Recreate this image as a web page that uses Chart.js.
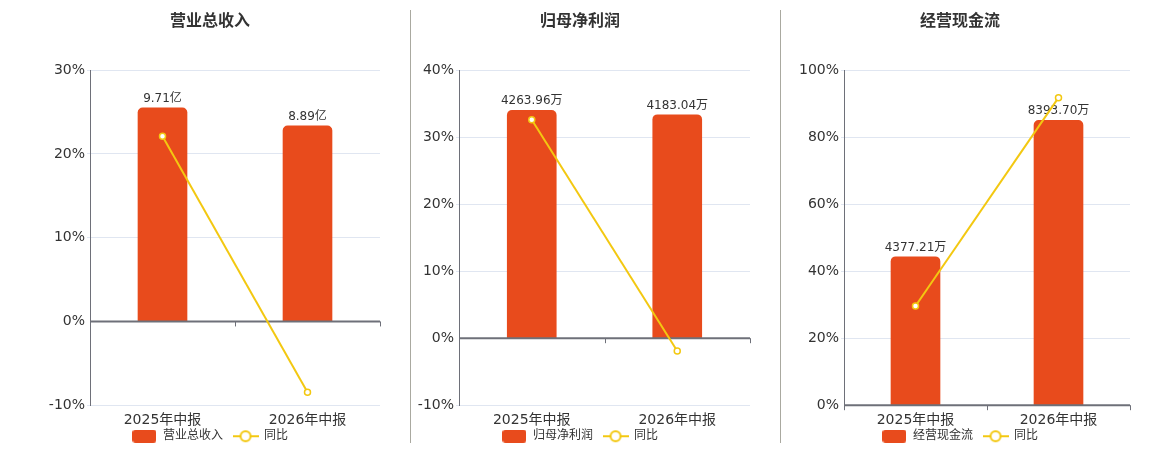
<!DOCTYPE html>
<html>
<head>
<meta charset="utf-8">
<script src="https://cdn.jsdelivr.net/npm/chart.js@4.4.1/dist/chart.umd.min.js"></script>
<style>
  body { margin: 0; background: #fff; overflow: hidden; width: 1160px; height: 450px; position: relative; }
  canvas { position: absolute; top: 0; }
  .sep { position: absolute; top: 10px; width: 1px; height: 433px; background: #aaa9a0; }
</style>
</head>
<body>
<canvas id="c1" width="380" height="468" style="left:20px"></canvas>
<canvas id="c2" width="370" height="468" style="left:395px"></canvas>
<canvas id="c3" width="370" height="468" style="left:775px"></canvas>
<div class="sep" style="left:410px"></div>
<div class="sep" style="left:780px"></div>
<script>
const categories = ['2025年中报', '2026年中报'];

const revenueValues = [9.71, 8.89];      // 亿
const revenueYoy = [22.1, -8.45];        // %
const revenueTicks = [-10, 0, 10, 20, 30];

const profitValues = [4263.96, 4183.04]; // 万
const profitYoy = [32.6, -1.9];
const profitTicks = [-10, 0, 10, 20, 30, 40];

const cashValues = [4377.21, 8393.70];   // 万
const cashYoy = [29.6, 91.8];
const cashTicks = [0, 20, 40, 60, 80, 100];

const barColor = '#e84b1c';
const lineColor = '#f3c811';
const axisColor = '#6e7079';
const gridColor = '#e0e6f1';
const textColor = '#333';
const fontFamily = '"DejaVu Sans", "Noto Sans CJK SC", sans-serif';

Chart.defaults.font.family = fontFamily;
Chart.defaults.color = textColor;

// legend icons
const barIcon = (() => {
    const c = document.createElement('canvas');
    c.width = 24; c.height = 13;
    const g = c.getContext('2d');
    const r = 3, w = 24, h = 13;
    g.fillStyle = barColor;
    g.beginPath();
    g.moveTo(r, 0);
    g.arcTo(w, 0, w, h, r);
    g.arcTo(w, h, 0, h, r);
    g.arcTo(0, h, 0, 0, r);
    g.arcTo(0, 0, w, 0, r);
    g.closePath();
    g.fill();
    return c;
})();

const lineIcon = (() => {
    const c = document.createElement('canvas');
    c.width = 26; c.height = 14;
    const g = c.getContext('2d');
    g.strokeStyle = lineColor;
    g.lineWidth = 2;
    g.beginPath();
    g.moveTo(0, 7); g.lineTo(26, 7);
    g.stroke();
    g.beginPath();
    g.arc(13, 7, 5, 0, Math.PI * 2);
    g.fillStyle = '#fff';
    g.fill();
    g.stroke();
    return c;
})();

// value labels above bars + the zero axis line with category ticks
const barExtras = {
    id: 'barExtras',
    afterLayout(chart) {
        // legend sits right under the category labels
        const h = chart.legend.bottom - chart.legend.top;
        chart.legend.top = chart.chartArea.bottom + 15;
        chart.legend.bottom = chart.legend.top + h;
    },
    afterDatasetDraw(chart, args, opts) {
        if (args.meta.type !== 'bar') return;
        const ctx = chart.ctx;
        const area = chart.chartArea;
        const y0 = chart.scales.y.getPixelForValue(0);
        ctx.save();
        ctx.strokeStyle = axisColor;
        ctx.lineWidth = 2;
        ctx.beginPath();
        ctx.moveTo(area.left, y0);
        ctx.lineTo(area.right, y0);
        ctx.stroke();
        ctx.lineWidth = 1;
        const n = chart.data.labels.length;
        for (let i = 0; i <= n; i++) {
            const x = Math.round(area.left + (area.right - area.left) * i / n) + 0.5;
            ctx.beginPath();
            ctx.moveTo(x, y0);
            ctx.lineTo(x, y0 + 5);
            ctx.stroke();
        }
        ctx.font = '12px ' + fontFamily;
        ctx.fillStyle = textColor;
        ctx.textAlign = 'center';
        ctx.textBaseline = 'alphabetic';
        const data = chart.data.datasets[args.index].data;
        args.meta.data.forEach((bar, i) => {
            ctx.fillText(data[i].toFixed(2) + opts.unit, bar.x, bar.y - 6);
        });
        ctx.restore();
    }
};

function makeChart(id, title, unit, values, yoy, ticks, axisWidth, rightPad) {
    const pMin = ticks[0];
    const pMax = ticks[ticks.length - 1];
    const barMax = Math.max(...values) / 0.85;
    return new Chart(document.getElementById(id), {
        data: {
            labels: categories,
            datasets: [
                {
                    type: 'bar',
                    label: title,
                    data: values,
                    yAxisID: 'y1',
                    backgroundColor: barColor,
                    barThickness: 49,
                    borderRadius: 5,
                    order: 2
                },
                {
                    type: 'line',
                    label: '同比',
                    data: yoy,
                    yAxisID: 'y',
                    borderColor: lineColor,
                    borderWidth: 2,
                    tension: 0,
                    pointRadius: 3,
                    pointBorderWidth: 1.5,
                    pointBackgroundColor: '#fff',
                    pointBorderColor: lineColor,
                    order: 1
                }
            ]
        },
        options: {
            responsive: false,
            animation: false,
            layout: { padding: 0 },
            plugins: {
                title: {
                    display: true,
                    text: title,
                    color: textColor,
                    font: { size: 16, weight: 'bold' },
                    padding: { top: 12, bottom: 39 }
                },
                legend: {
                    position: 'bottom',
                    labels: {
                        usePointStyle: true,
                        pointStyleWidth: 25,
                        padding: 10,
                        color: textColor,
                        font: { size: 12 },
                        generateLabels: () => [
                            { text: title, pointStyle: barIcon, fillStyle: barColor, strokeStyle: barColor, lineWidth: 0, datasetIndex: 0, fontColor: textColor },
                            { text: '同比', pointStyle: lineIcon, fillStyle: '#fff', strokeStyle: lineColor, lineWidth: 0, datasetIndex: 1, fontColor: textColor }
                        ]
                    }
                },
                tooltip: { enabled: false },
                barExtras: { unit: unit }
            },
            scales: {
                x: {
                    grid: { display: false, drawTicks: false },
                    border: { display: false },
                    ticks: { padding: 7, color: textColor, font: { size: 14 } }
                },
                y: {
                    position: 'left',
                    min: pMin,
                    max: pMax,
                    ticks: {
                        stepSize: ticks[1] - ticks[0],
                        padding: 2,
                        color: textColor,
                        font: { size: 14 },
                        callback: v => v + '%'
                    },
                    grid: {
                        color: c => c.tick && c.tick.value === 0 ? 'rgba(0,0,0,0)' : gridColor,
                        tickColor: c => c.tick && c.tick.value === 0 ? 'rgba(0,0,0,0)' : gridColor,
                        tickLength: 3
                    },
                    border: { display: true, color: axisColor, width: 1 },
                    afterFit: s => { s.width = axisWidth; }
                },
                y1: {
                    position: 'right',
                    min: barMax * pMin / pMax,
                    max: barMax,
                    ticks: { display: false },
                    grid: { display: false },
                    border: { display: false },
                    afterFit: s => { s.width = rightPad; }
                }
            }
        },
        plugins: [barExtras]
    });
}

makeChart('c1', '营业总收入', '亿', revenueValues, revenueYoy, revenueTicks, 70, 20);
makeChart('c2', '归母净利润', '万', profitValues, profitYoy, profitTicks, 64, 15);
makeChart('c3', '经营现金流', '万', cashValues, cashYoy, cashTicks, 69, 15);
</script>
</body>
</html>
